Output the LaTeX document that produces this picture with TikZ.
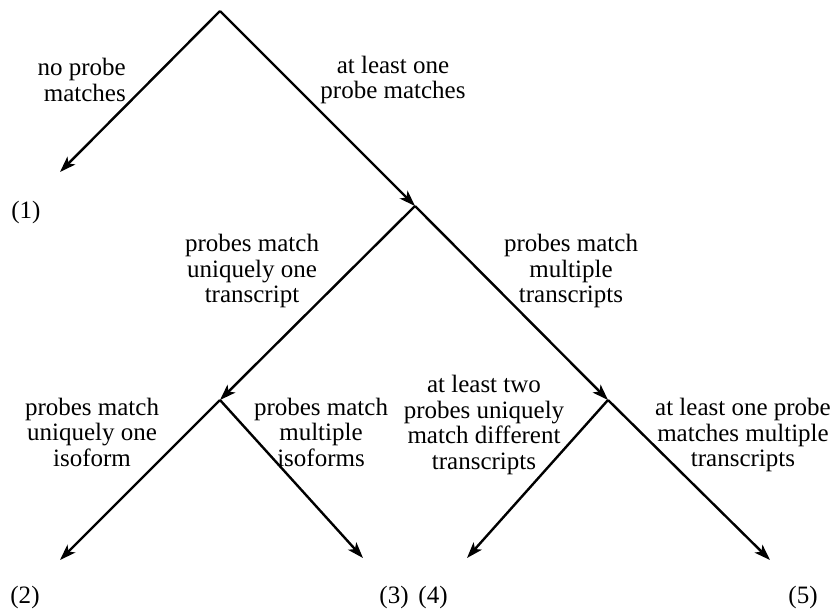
\documentclass[tikz,border=0pt]{standalone}
\usepackage{fontspec}
\setmainfont{Liberation Serif}
\usetikzlibrary{arrows.meta}

\begin{document}
\begin{tikzpicture}[x=1pt, y=-1pt, line width=2.4pt, >={Stealth[length=16pt, width=11pt, inset=4pt]}, % pixel units, y downwards
  lbl/.style={align=center, inner sep=0pt, font=\fontsize{25}{25.5}\selectfont}, % branch labels
  leaf/.style={inner sep=0pt, font=\fontsize{25}{25.5}\selectfont}] % outcome numbers
  \useasboundingbox (0,0) rectangle (832,610);

  % branch points
  \coordinate (root) at (220,11);
  \coordinate (b1) at (415,206);
  \coordinate (b2) at (220,400);
  \coordinate (b3) at (608,400);
  % arrow ends
  \coordinate (e1) at (60,172);
  \coordinate (e2) at (60,560);
  \coordinate (e3) at (363,558);
  \coordinate (e4) at (467,558);
  \coordinate (e5) at (770,560);

  % outcomes
  \node[leaf] (o1) at (26,212) {(1)};
  \node[leaf] (o2) at (25,597) {(2)};
  \node[leaf] (o3) at (394,597) {(3)};
  \node[leaf] (o4) at (433,597) {(4)};
  \node[leaf] (o5) at (803,597) {(5)};

  \draw[->] (root) -- (e1);
  \draw[->] (root) -- (b1);
  \draw[->] (b1) -- (b2);
  \draw[->] (b1) -- (b3);
  \draw[->] (b2) -- (e2);
  \draw[->] (b2) -- (e3);
  \draw[->] (b3) -- (e4);
  \draw[->] (b3) -- (e5);

  % labels
  \node[lbl, align=right, anchor=east] (nomatch) at (127,80) {no probe\\matches};
  \node[lbl] (onematch) at (393,80) {at least one\\probe matches};
  \node[lbl] (uniqtr) at (252,271) {probes match\\uniquely one\\transcript};
  \node[lbl] (multtr) at (571,271) {probes match\\multiple\\transcripts};
  \node[lbl] (uniqiso) at (92,432) {probes match\\uniquely one\\isoform};
  \node[lbl] (multiso) at (321,432) {probes match\\multiple\\isoforms};
  \node[lbl] (twodiff) at (484,425) {at least two\\probes uniquely\\match different\\transcripts};
  \node[lbl] (onemult) at (743,435) {at least one probe\\matches multiple\\transcripts};
\end{tikzpicture}
\end{document}
